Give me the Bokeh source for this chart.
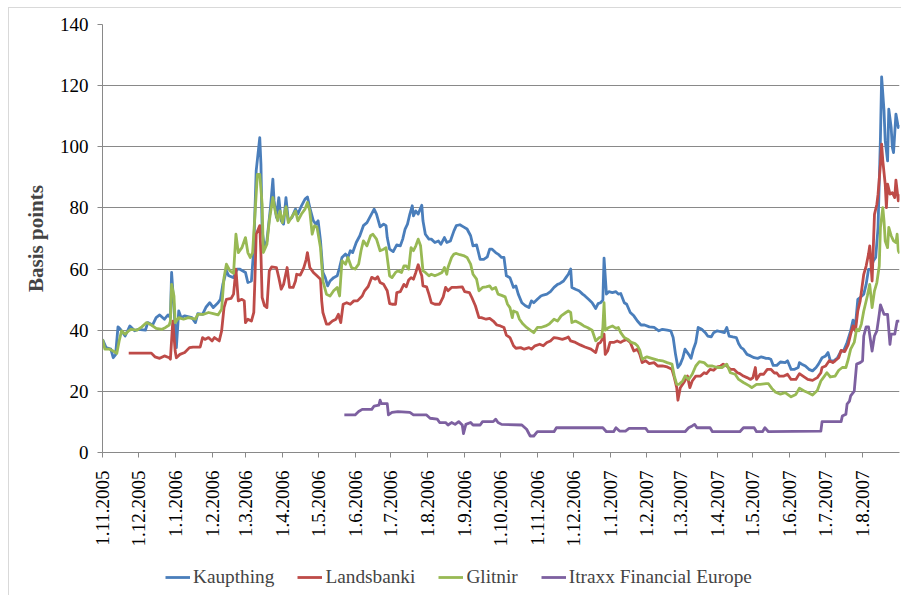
import pandas as pd
from bokeh.plotting import figure
from bokeh.layouts import column
from bokeh.models import Range1d, FixedTicker, CustomJSTickFormatter, Legend, LegendItem
from bokeh.embed import file_html
from bokeh.resources import INLINE
import math

# ---------------- data ----------------
START = "2005-11-01"
END = "2007-09-01"
TICK_MONTHS_FROM = "2005-11-01"
TICK_MONTHS_TO = "2007-08-01"
Y_TICKS = [0, 20, 40, 60, 80, 100, 120, 140]

# days since 1 Nov 2005, basis points
kaup_days = [0, 3, 7, 9, 11, 13, 15, 19, 23, 27, 30, 36, 38, 42, 45, 48, 52, 55, 57, 58, 60, 62, 64, 66, 69, 75, 78, 80, 84, 87,
             90, 93, 97, 99, 101, 104, 106, 110, 113, 115, 120, 122, 125, 127, 129, 132, 133, 134, 136, 138, 141, 143, 144, 146, 148, 150, 152, 154, 156, 159,
             162, 164, 167, 170, 172, 174, 177, 179, 181, 183, 185, 187, 189, 191, 194, 197, 199, 201, 204, 206, 208, 210, 213, 216, 219, 222, 225, 228, 230, 233,
             236, 238, 239, 241, 244, 247, 250, 252, 254, 256, 258, 260, 261, 263, 265, 268, 269, 271, 274, 276, 279, 282, 284, 287, 289, 292, 295, 297, 300, 303,
             306, 309, 311, 314, 317, 320, 323, 325, 327, 330, 332, 335, 337, 339, 342, 345, 347, 349, 352, 355, 358, 360, 362, 365, 368, 370, 373, 376, 379, 382,
             384, 387, 389, 391, 393, 394, 397, 400, 403, 405, 408, 411, 414, 416, 418, 420, 421, 423, 425, 428, 431, 433, 435, 438, 440, 443, 446, 449, 452, 455,
             459, 463, 467, 470, 474, 477, 479, 481, 483, 485, 487, 489, 492, 494, 496, 498, 500, 503, 506, 508, 511, 513, 516, 519, 522, 524, 526, 529, 532, 534,
             536, 538, 541, 544, 547, 550, 553, 557, 559, 561, 563, 566, 569, 573, 575, 578, 581, 584, 585, 587, 590, 593, 596, 599, 601, 604, 607, 609, 611, 614,
             617, 620, 622, 625, 628, 630, 632, 634, 636, 639, 641, 643, 645, 647, 649, 651, 653, 654, 656, 657, 659, 660, 662, 663, 664, 666, 667, 668, 669]
kaup_vals = [37.0, 34.3, 33.8, 31.0, 32.0, 41.1, 40.3, 38.1, 41.4, 39.8, 40.3, 40.0, 42.5, 41.7, 44.1, 45.0, 43.6, 45.0, 44.1, 58.9, 47.4, 34.3, 46.3, 44.1, 44.7, 44.1, 42.5, 45.4, 45.2, 47.6,
             49.0, 47.4, 49.0, 50.1, 55.0, 59.4, 57.8, 57.2, 60.0, 60.0, 58.9, 55.6, 56.1, 67.0, 92.1, 103.0, 94.3, 72.5, 67.0, 69.2, 80.1, 89.4, 82.3, 76.9, 83.4, 75.8, 74.7, 83.4, 75.8, 76.9,
             79.6, 78.0, 80.7, 82.9, 83.6, 80.1, 75.8, 74.7, 75.8, 69.2, 58.9, 57.2, 54.5, 56.1, 57.2, 57.8, 60.5, 63.8, 64.9, 63.8, 66.0, 65.4, 68.7, 70.9, 74.2, 75.2, 77.4, 79.6, 78.0, 73.8,
             74.7, 74.2, 70.3, 66.5, 65.7, 67.9, 67.6, 69.8, 73.1, 74.7, 78.0, 80.7, 77.4, 79.0, 78.0, 80.9, 75.8, 71.4, 69.8, 69.8, 68.7, 69.2, 68.1, 70.3, 68.7, 69.2, 72.5, 74.2, 74.5, 73.8,
             73.1, 70.9, 67.6, 67.9, 63.2, 63.2, 64.0, 66.5, 66.5, 65.4, 64.9, 63.8, 63.8, 57.8, 57.2, 54.0, 54.5, 51.8, 49.0, 48.0, 47.4, 49.6, 49.0, 50.1, 51.2, 51.5, 51.8, 52.6, 54.0, 55.0,
             55.3, 56.1, 57.2, 58.3, 60.0, 54.0, 53.4, 52.9, 51.8, 51.2, 50.1, 49.0, 47.1, 48.7, 49.0, 49.8, 63.6, 51.8, 52.6, 52.3, 52.6, 51.8, 52.0, 49.0, 48.5, 45.8, 44.7, 43.0, 41.7, 41.7,
             41.1, 40.9, 39.8, 40.3, 40.0, 39.8, 37.6, 32.1, 27.8, 28.9, 30.8, 33.8, 32.1, 30.8, 33.8, 36.0, 40.9, 40.3, 39.2, 38.1, 37.8, 39.2, 39.8, 39.5, 39.2, 40.9, 38.1, 37.8, 37.6, 35.6,
             34.3, 33.8, 32.1, 31.6, 31.0, 30.8, 31.3, 30.8, 30.8, 30.5, 28.5, 28.5, 29.6, 29.4, 30.0, 27.2, 27.2, 27.8, 29.4, 28.9, 28.3, 27.2, 26.7, 27.8, 28.9, 31.0, 31.6, 32.7, 30.0, 30.0,
             31.0, 33.2, 33.2, 36.0, 39.8, 43.3, 41.4, 50.1, 50.7, 51.8, 55.0, 59.9, 59.9, 62.7, 63.8, 73.6, 103.0, 122.9, 111.8, 102.0, 95.4, 112.3, 106.3, 99.8, 98.1, 110.7, 108.5, 106.3, 107.2]

lands_days = [22, 41, 44, 48, 52, 56, 57, 59, 61, 62, 65, 69, 73, 76, 82, 84, 86, 89, 92, 94, 98, 100, 102, 104, 108, 110, 112, 114, 117, 119,
              120, 122, 125, 127, 128, 129, 132, 133, 134, 136, 138, 140, 142, 146, 148, 150, 152, 155, 157, 160, 162, 163, 166, 169, 171, 172, 174, 177, 180, 183,
              184, 185, 188, 190, 193, 196, 198, 200, 202, 205, 208, 211, 214, 218, 220, 223, 226, 229, 231, 233, 236, 239, 241, 243, 246, 247, 250, 253, 255, 257,
              259, 261, 263, 265, 267, 268, 269, 272, 274, 276, 279, 283, 286, 288, 290, 293, 297, 302, 304, 308, 310, 313, 316, 318, 322, 325, 328, 331, 334, 337,
              339, 342, 345, 347, 351, 354, 358, 360, 363, 367, 370, 373, 376, 379, 382, 386, 389, 391, 393, 397, 401, 405, 410, 414, 416, 418, 420, 421, 422, 424,
              426, 429, 432, 435, 437, 440, 443, 446, 449, 451, 453, 456, 459, 463, 466, 470, 474, 478, 480, 482, 483, 485, 488, 491, 493, 495, 498, 502, 505, 507,
              510, 513, 516, 519, 521, 524, 527, 530, 533, 535, 538, 541, 544, 546, 548, 549, 552, 555, 558, 561, 564, 566, 568, 572, 575, 578, 582, 585, 588, 592,
              596, 600, 603, 604, 607, 610, 613, 615, 618, 620, 623, 626, 628, 630, 632, 634, 636, 639, 641, 643, 644, 646, 648, 650, 651, 653, 654, 655, 657, 658,
              659, 661, 663, 665, 666, 668, 669]
lands_vals = [32.5, 32.5, 31.3, 30.8, 31.6, 31.0, 30.5, 43.0, 33.2, 31.0, 32.1, 32.7, 34.3, 34.5, 34.5, 37.6, 37.0, 37.6, 36.5, 37.6, 36.5, 39.8, 47.4, 50.1, 50.4, 51.8, 60.0, 49.6, 50.1, 49.6,
              42.5, 43.6, 43.0, 45.8, 57.2, 71.4, 74.2, 64.9, 50.7, 48.0, 47.4, 59.4, 60.7, 60.5, 57.2, 53.4, 55.0, 60.5, 54.0, 54.0, 56.1, 58.3, 58.0, 60.5, 63.2, 65.4, 60.5, 58.9, 57.8, 56.7,
              49.6, 45.8, 42.0, 42.0, 43.0, 43.6, 45.2, 42.5, 48.5, 49.0, 48.5, 49.6, 49.6, 51.2, 52.9, 54.3, 57.3, 56.7, 57.5, 55.6, 55.0, 52.9, 48.7, 48.5, 48.5, 52.3, 52.6, 55.0, 54.2, 56.4,
              57.2, 56.7, 58.9, 61.4, 58.9, 57.8, 54.5, 54.2, 51.8, 49.0, 48.5, 48.5, 50.9, 54.0, 52.9, 54.0, 54.0, 54.2, 52.6, 52.3, 50.7, 48.0, 44.1, 44.1, 43.6, 43.9, 43.0, 41.7, 41.4, 40.9,
              38.4, 37.6, 34.9, 34.1, 34.3, 33.8, 34.3, 33.8, 34.9, 35.4, 34.9, 36.0, 36.5, 37.6, 37.4, 37.0, 37.4, 37.8, 36.5, 36.0, 35.2, 34.5, 33.8, 32.7, 35.6, 36.0, 37.4, 38.7, 32.1, 33.2,
              36.0, 36.0, 36.5, 36.0, 36.5, 37.0, 36.0, 33.2, 33.8, 32.1, 29.4, 30.0, 29.1, 29.4, 28.3, 28.3, 28.0, 27.2, 24.5, 21.2, 17.1, 21.2, 22.9, 25.0, 21.2, 23.4, 25.0, 25.0, 26.1, 25.8,
              27.2, 26.9, 28.0, 28.3, 28.9, 28.3, 27.2, 27.2, 26.1, 25.8, 25.0, 24.5, 23.9, 24.5, 27.8, 23.9, 25.6, 25.6, 27.2, 27.2, 26.0, 26.0, 25.0, 25.0, 25.6, 23.9, 23.9, 25.8, 25.0, 23.9,
              23.6, 24.5, 26.1, 27.8, 28.3, 30.0, 29.4, 30.0, 31.0, 33.4, 33.0, 35.4, 38.7, 41.4, 39.8, 46.3, 49.6, 58.3, 61.0, 64.9, 67.6, 56.1, 77.9, 81.2, 84.5, 94.3, 100.9, 95.4, 87.8, 80.1,
              87.8, 84.5, 85.0, 83.4, 89.1, 82.3, 84.5]

glit_days = [0, 2, 6, 9, 12, 14, 16, 19, 22, 24, 29, 33, 37, 41, 45, 50, 53, 56, 57, 58, 60, 61, 64, 68, 72, 78, 80, 85, 89, 93,
             97, 100, 102, 104, 107, 110, 112, 114, 117, 120, 122, 124, 126, 128, 130, 132, 134, 135, 138, 140, 143, 145, 147, 149, 151, 154, 156, 159, 162, 164,
             167, 170, 172, 174, 176, 178, 180, 183, 185, 188, 191, 194, 197, 199, 201, 204, 206, 209, 212, 215, 217, 219, 222, 225, 227, 230, 233, 236, 238, 239,
             241, 243, 246, 248, 251, 253, 255, 257, 259, 261, 263, 265, 267, 269, 271, 274, 276, 279, 282, 285, 287, 289, 290, 293, 295, 297, 300, 303, 306, 309,
             311, 314, 316, 319, 322, 325, 327, 330, 332, 335, 338, 340, 342, 344, 345, 348, 350, 353, 356, 359, 362, 365, 368, 372, 375, 379, 382, 385, 389, 391,
             393, 394, 397, 401, 404, 407, 411, 414, 417, 419, 420, 421, 422, 425, 428, 431, 433, 435, 438, 441, 444, 447, 449, 451, 453, 457, 461, 466, 470, 474,
             478, 480, 482, 484, 487, 489, 492, 495, 498, 501, 505, 508, 512, 516, 520, 524, 527, 531, 534, 538, 543, 545, 549, 552, 557, 559, 562, 565, 569, 573,
             578, 582, 585, 589, 592, 596, 600, 603, 606, 608, 611, 615, 618, 621, 624, 626, 628, 631, 633, 635, 637, 639, 642, 644, 646, 648, 650, 652, 653, 655,
             656, 657, 659, 660, 662, 664, 666, 667, 668, 669]
glit_vals = [37.0, 33.8, 33.8, 33.2, 32.4, 36.5, 39.8, 38.7, 39.8, 40.3, 40.0, 41.1, 42.5, 41.7, 40.6, 40.3, 40.9, 41.7, 43.0, 55.0, 51.2, 42.5, 44.1, 43.6, 44.1, 43.6, 45.2, 45.2, 45.8, 45.4,
             45.0, 46.9, 57.2, 61.6, 59.4, 58.6, 71.4, 65.4, 67.0, 70.3, 65.4, 63.8, 65.4, 78.0, 91.0, 91.0, 81.2, 65.4, 68.1, 75.8, 83.4, 79.0, 75.8, 79.0, 75.2, 80.4, 75.2, 77.1, 79.0, 75.8,
             78.0, 79.6, 81.8, 79.0, 71.4, 74.2, 73.8, 67.0, 56.1, 51.8, 51.2, 52.9, 54.0, 51.2, 62.7, 61.6, 63.8, 60.5, 60.0, 61.6, 66.0, 69.2, 67.6, 70.9, 71.4, 69.8, 66.0, 66.5, 67.0, 63.8,
             57.8, 57.2, 58.9, 59.4, 58.9, 61.0, 61.0, 60.0, 67.0, 66.0, 67.6, 69.8, 67.6, 59.4, 58.9, 57.8, 58.3, 57.8, 58.3, 58.9, 60.5, 58.3, 60.5, 63.8, 64.9, 65.1, 64.7, 64.4, 63.8, 61.6,
             58.3, 56.7, 52.9, 54.0, 54.2, 54.5, 53.4, 54.0, 51.8, 51.4, 50.9, 48.5, 47.4, 44.1, 46.3, 45.8, 43.6, 42.0, 40.9, 40.0, 39.2, 40.9, 40.9, 41.4, 42.0, 43.6, 43.0, 44.7, 45.8, 46.3,
             45.8, 42.5, 43.0, 42.2, 41.4, 40.9, 40.0, 36.5, 37.6, 37.8, 40.9, 49.0, 40.0, 40.9, 41.4, 40.6, 40.9, 39.2, 37.6, 37.0, 36.0, 35.6, 34.9, 33.5, 30.5, 31.3, 30.8, 30.2, 30.0, 29.4,
             28.9, 25.0, 22.3, 22.3, 23.4, 25.0, 23.9, 25.6, 28.3, 29.7, 29.4, 28.3, 28.3, 27.8, 27.8, 28.9, 26.1, 25.6, 23.9, 22.9, 21.8, 21.2, 22.3, 22.3, 22.5, 22.5, 20.9, 19.7, 19.1, 19.6,
             18.2, 19.0, 21.0, 20.1, 19.6, 18.8, 20.3, 23.4, 25.0, 26.1, 24.7, 25.0, 26.9, 27.8, 27.8, 30.5, 33.8, 36.0, 40.3, 39.8, 42.0, 46.3, 51.2, 55.0, 47.4, 52.9, 55.6, 61.0, 73.6, 80.1,
             75.8, 69.2, 67.0, 73.6, 70.9, 69.2, 68.7, 71.4, 66.0, 65.1]

itraxx_days = [203, 212, 215, 218, 226, 228, 232, 233, 234, 239, 240, 243, 248, 258, 261, 272, 275, 281, 283, 288, 290, 293, 296, 299, 302, 303, 305, 309, 311, 317,
               319, 328, 330, 332, 335, 352, 356, 359, 362, 365, 379, 381, 420, 423, 429, 431, 434, 439, 442, 456, 458, 489, 492, 495, 497, 499, 510, 512, 535, 538,
               547, 549, 554, 556, 559, 603, 604, 620, 621, 624, 625, 627, 628, 631, 633, 636, 638, 639, 641, 643, 646, 648, 650, 652, 653, 656, 659, 661, 662, 665,
               667, 669]
itraxx_vals = [12.3, 12.3, 13.4, 14.1, 14.1, 15.2, 15.5, 17.1, 16.0, 16.0, 12.3, 13.1, 13.4, 13.1, 12.3, 12.3, 11.2, 10.9, 9.8, 9.8, 9.0, 9.8, 9.2, 10.1, 9.0, 6.2, 9.2, 9.8, 9.0, 9.0,
               10.1, 10.1, 10.9, 9.8, 9.2, 9.0, 7.6, 5.4, 5.4, 6.8, 6.8, 8.1, 8.1, 6.8, 6.8, 8.1, 7.0, 7.0, 7.9, 7.9, 6.8, 6.8, 8.1, 8.7, 9.2, 8.1, 8.1, 6.8, 6.8, 8.1,
               8.1, 6.8, 6.8, 8.1, 6.8, 7.0, 10.1, 10.1, 11.9, 12.5, 15.8, 16.8, 18.5, 20.1, 28.9, 29.4, 30.0, 38.1, 41.1, 41.1, 33.2, 38.1, 39.8, 45.2, 48.3, 45.2, 45.2, 35.4, 38.7, 38.7,
               43.0, 43.0]

SERIES = [
    ("Kaupthing", kaup_days, kaup_vals, "#4A7EBB"),
    ("Landsbanki", lands_days, lands_vals, "#BE4B48"),
    ("Glitnir", glit_days, glit_vals, "#98B954"),
    ("Itraxx Financial Europe", itraxx_days, itraxx_vals, "#7D60A0"),
]

FONT = "Liberation Serif"
FS = "19px"
FS_LEGEND = "19.3px"
GRAY = "#898989"
LW = 2.8

start = pd.Timestamp(START)


def to_dates(days):
    return [start + pd.Timedelta(days=d) for d in days]


# ---------------- main chart ----------------
p = figure(width=892, height=544, x_axis_type="datetime", output_backend="svg", toolbar_location=None,
           x_range=Range1d(start, pd.Timestamp(END)), y_range=Range1d(0, 140),
           min_border_left=93, min_border_right=2, min_border_top=16, min_border_bottom=100)
p.outline_line_color = None
p.background_fill_color = "white"
p.border_fill_color = "white"

for name, d, v, c in SERIES:
    p.line(to_dates(d), v, line_color=c, line_width=LW, line_join="round")

month_ticks = [int(t.value // 10**6) for t in pd.date_range(TICK_MONTHS_FROM, TICK_MONTHS_TO, freq="MS")]
p.xaxis.ticker = FixedTicker(ticks=month_ticks)
p.xaxis.formatter = CustomJSTickFormatter(code="""
const d = new Date(tick);
return d.getUTCDate() + "." + (d.getUTCMonth() + 1) + "." + d.getUTCFullYear();
""")
p.xaxis.major_label_orientation = math.pi / 2
p.xaxis.minor_tick_line_color = None
p.xgrid.grid_line_color = None

p.yaxis.ticker = FixedTicker(ticks=Y_TICKS)
p.yaxis.minor_tick_line_color = None
p.yaxis.axis_label = "Basis points"
p.yaxis.axis_label_text_font = FONT
p.yaxis.axis_label_text_font_size = "21px"
p.yaxis.axis_label_text_font_style = "bold"
p.yaxis.axis_label_standoff = 9
p.ygrid.grid_line_color = GRAY
p.ygrid.grid_line_width = 1

for ax in (p.xaxis, p.yaxis):
    ax.axis_line_color = GRAY
    ax.major_tick_line_color = GRAY
    ax.major_tick_out = 5
    ax.major_tick_in = 0
    ax.major_label_text_font = FONT
    ax.major_label_text_font_size = FS
    ax.major_label_text_color = "black"
p.xaxis.major_label_standoff = 13
p.yaxis.major_label_standoff = 9

# ---------------- legend strip (frame aligned with the chart's frame) ----------------
lg = figure(width=892, height=43, output_backend="svg", toolbar_location=None,
            x_axis_location=None, y_axis_location=None,
            x_range=Range1d(10, 11), y_range=Range1d(10, 11),
            min_border_left=0, min_border_right=0, min_border_top=0, min_border_bottom=0)
lg.outline_line_color = None
lg.xgrid.grid_line_color = None
lg.ygrid.grid_line_color = None
items = []
for name, d, v, c in SERIES:
    # single off-range point: only used to draw the legend swatch
    r = lg.line(x=[0], y=[0], line_color=c, line_width=LW)
    items.append(LegendItem(label=name, renderers=[r]))
legend = Legend(items=items, orientation="horizontal", location=(63, 7),
                border_line_color=None, background_fill_alpha=0, padding=0, margin=0,
                spacing=23, label_standoff=3, glyph_width=25, glyph_height=20, label_height=20,
                label_text_font=FONT, label_text_font_size=FS_LEGEND)
lg.add_layout(legend, "center")

layout = column(p, lg, spacing=0)
layout.styles = {"border": "1px solid #d9d9d9", "margin-left": "8px", "margin-top": "7px"}

open("out.html", "w").write(file_html(layout, INLINE))
